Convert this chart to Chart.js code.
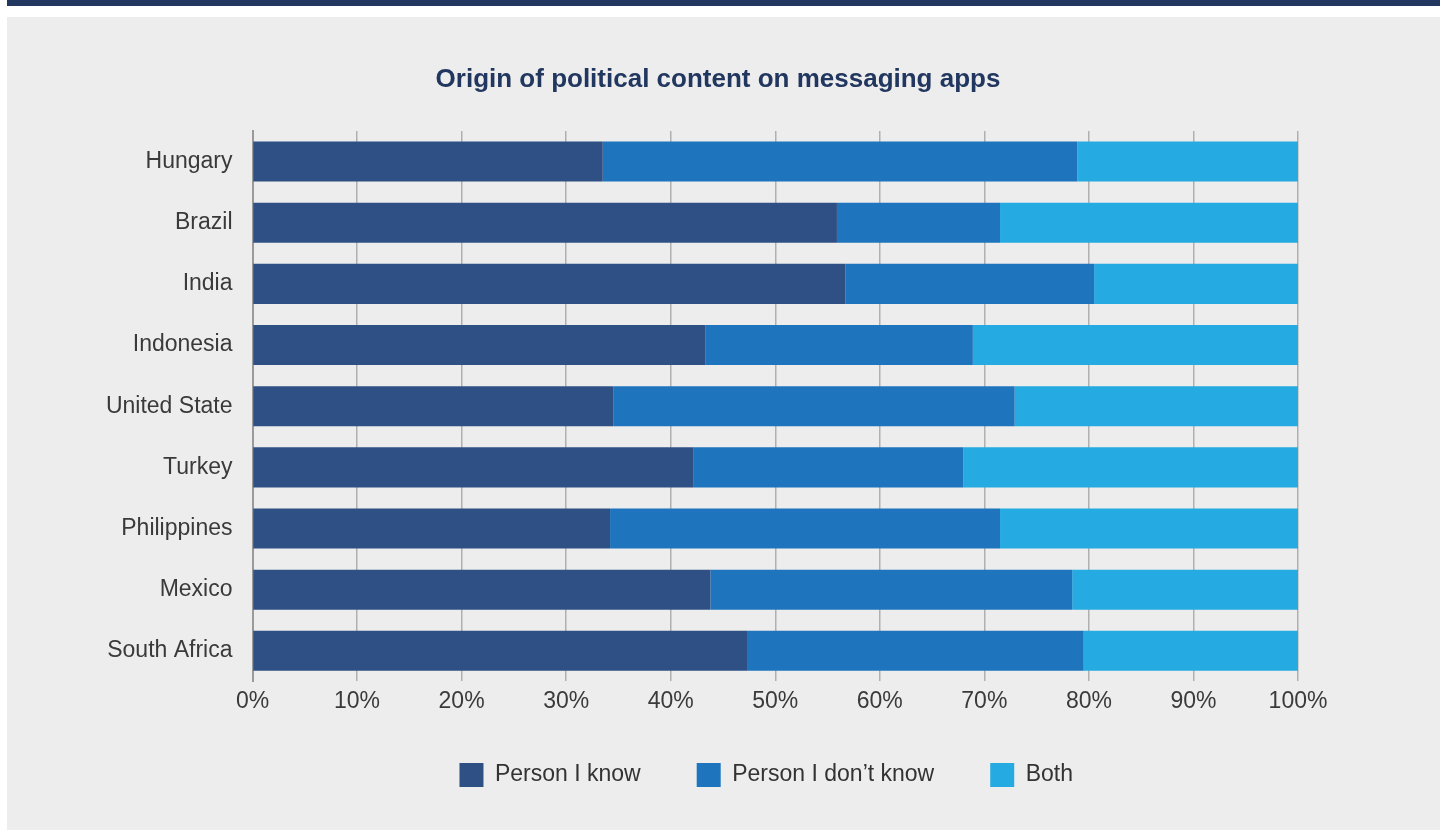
<!DOCTYPE html>
<html>
<head>
<meta charset="utf-8">
<script src="https://cdn.jsdelivr.net/npm/chart.js@4/dist/chart.umd.min.js"></script>
<style>
  body { margin: 0; background: #fff; width: 1440px; height: 830px; overflow: hidden; position: relative; }
  #band { position: absolute; left: 7px; top: 0; width: 1433px; height: 6px; background: #22375f; }
  #panel { position: absolute; left: 7px; top: 17px; width: 1433px; height: 813px; background: #ededed; }
</style>
</head>
<body>
<div id="band"></div>
<div id="panel"><canvas id="originChart" width="1433" height="813"></canvas></div>
<script>
var chartTitle = 'Origin of political content on messaging apps';
var countries = ['Hungary', 'Brazil', 'India', 'Indonesia', 'United State', 'Turkey', 'Philippines', 'Mexico', 'South Africa'];
var personKnow     = [33.5, 55.9, 56.7, 43.3, 34.5, 42.2, 34.2, 43.8, 47.3];
var personDontKnow = [45.4, 15.6, 23.8, 25.6, 38.4, 25.8, 37.3, 34.6, 32.2];
var both           = [21.1, 28.5, 19.5, 31.1, 27.1, 32.0, 28.5, 21.6, 20.5];
var percentTicks = [0, 10, 20, 30, 40, 50, 60, 70, 80, 90, 100];

Chart.defaults.font.family = '"Liberation Sans", Arial, sans-serif';
Chart.defaults.font.size = 23;
Chart.defaults.color = '#3a3a3a';

// title sits a little left of the plot centre, so draw it by hand
var panelTitle = {
  id: 'panelTitle',
  afterDraw: function (chart) {
    var c = chart.ctx;
    c.save();
    c.font = 'bold 26px "Liberation Sans", Arial, sans-serif';
    c.fillStyle = '#22375f';
    c.textAlign = 'center';
    c.textBaseline = 'middle';
    c.fillText(chartTitle, 711, 63);
    c.restore();
  }
};

// centre the legend under the bars instead of the whole canvas, and pull it up a bit
var legendUnderPlot = {
  id: 'legendUnderPlot',
  afterLayout: function (chart) {
    var lg = chart.legend;
    var mid = (chart.chartArea.left + chart.chartArea.right) / 2 - 9;
    var half = (lg.right - lg.left) / 2;
    lg.left = mid - half;
    lg.right = mid + half;
    lg.top -= 14;
    lg.bottom -= 14;
  }
};

var ctx = document.getElementById('originChart').getContext('2d');

var originChart = new Chart(ctx, {
  type: 'bar',
  data: {
    labels: countries,
    datasets: [
      { label: 'Person I know', data: personKnow, backgroundColor: '#2f5084' },
      { label: 'Person I don\u2019t know', data: personDontKnow, backgroundColor: '#1e75bd' },
      { label: 'Both', data: both, backgroundColor: '#25aae1' }
    ]
  },
  options: {
    responsive: false,
    animation: false,
    indexAxis: 'y',
    barPercentage: 0.655,
    categoryPercentage: 1,
    layout: { padding: { left: 20, right: 142, top: 114, bottom: 19 } },
    plugins: {
      title: { display: false },
      tooltip: { enabled: false },
      legend: {
        position: 'bottom',
        labels: { boxWidth: 24, boxHeight: 24, padding: 56, color: '#333', font: { size: 23 } }
      }
    },
    scales: {
      x: {
        stacked: true,
        min: 0,
        max: 100,
        afterBuildTicks: function (scale) {
          scale.ticks = percentTicks.map(function (v) { return { value: v }; });
        },
        grid: { color: '#b0b0b0', lineWidth: 1.5, drawTicks: false },
        border: { display: false },
        ticks: {
          padding: 6,
          callback: function (v) { return v + '%'; }
        }
      },
      y: {
        stacked: true,
        grid: { display: false, drawTicks: false },
        border: { color: '#9a9a9a', width: 2 },
        afterFit: function (scale) { scale.width = 225.5; },
        ticks: { padding: 20 }
      }
    }
  },
  plugins: [panelTitle, legendUnderPlot]
});
</script>
</body>
</html>
